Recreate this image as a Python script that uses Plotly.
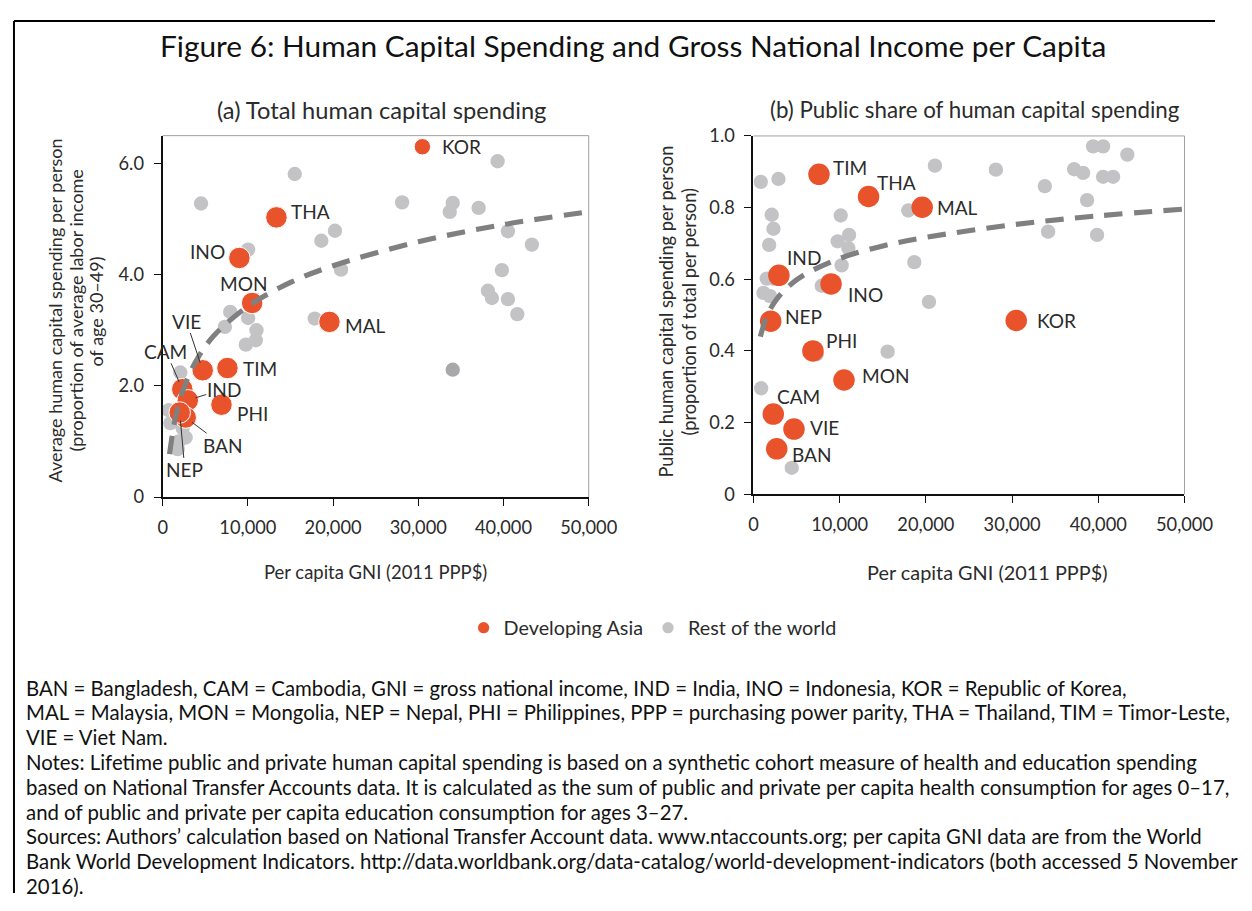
import plotly.graph_objects as go

# ---------------- data ----------------
asia_codes = ["KOR", "THA", "INO", "MON", "MAL", "TIM", "VIE", "CAM", "IND", "PHI", "BAN", "NEP"]
asia_gni = [30480, 13350, 9000, 10500, 19570, 7600, 4700, 2300, 2950, 6900, 2700, 2000]
asia_total = [6.30, 5.03, 4.30, 3.49, 3.15, 2.32, 2.28, 1.94, 1.74, 1.66, 1.43, 1.52]
asia_public = [0.485, 0.831, 0.587, 0.319, 0.801, 0.893, 0.182, 0.224, 0.611, 0.400, 0.127, 0.483]

row_a_gni = [4500, 15500, 10030, 20220, 18620, 20930, 28100, 34040, 33690, 7930, 7300, 10030,
             11010, 10930, 9760, 17840, 2070, 700, 900, 2340, 2700, 1900, 1760, 37080, 39310,
             40520, 43330, 39810, 38170, 38640, 40520, 41620]
row_a_total = [5.28, 5.81, 4.45, 4.79, 4.61, 4.09, 5.30, 5.29, 5.13, 3.33, 3.06, 3.22,
               3.00, 2.82, 2.74, 3.21, 2.24, 1.56, 1.33, 1.24, 1.07, 1.00, 0.86, 5.20, 6.04,
               4.78, 4.54, 4.08, 3.71, 3.58, 3.56, 3.29]
row_a_dark_gni = [34040]
row_a_dark_total = [2.29]

row_b_gni = [850, 2900, 21050, 2120, 2320, 1820, 10120, 11090, 9770, 11010, 10230, 17960,
             18660, 20360, 1540, 2320, 1160, 1930, 7920, 7340, 15560, 890, 4440, 28120,
             33800, 37200, 38240, 39400, 40560, 43370, 40560, 41720, 38700, 34180, 39860]
row_b_public = [0.872, 0.880, 0.917, 0.780, 0.741, 0.696, 0.778, 0.724, 0.706, 0.687, 0.639, 0.792,
                0.648, 0.537, 0.602, 0.602, 0.562, 0.553, 0.582, 0.391, 0.398, 0.296, 0.074, 0.906,
                0.860, 0.907, 0.897, 0.971, 0.971, 0.948, 0.886, 0.886, 0.821, 0.733, 0.724]

# fitted trend lines
trend_gni = [800, 1500, 2500, 4000, 6000, 10000, 15000, 20000, 30000, 40000, 50000]
trend_total = [0.77, 1.43, 1.97, 2.47, 2.90, 3.43, 3.86, 4.16, 4.59, 4.90, 5.13]
trend_public = [0.440, 0.494, 0.538, 0.579, 0.614, 0.658, 0.693, 0.717, 0.752, 0.777, 0.796]

x_tickvals = [0, 10000, 20000, 30000, 40000, 50000]
x_ticktext = ["0", "10,000", "20,000", "30,000", "40,000", "50,000"]
ya_tickvals = [0, 2, 4, 6]
ya_ticktext = ["0", "2.0", "4.0", "6.0"]
yb_tickvals = [0, 0.2, 0.4, 0.6, 0.8, 1.0]
yb_ticktext = ["0", "0.2", "0.4", "0.6", "0.8", "1.0"]

title_text = "Figure 6: Human Capital Spending and Gross National Income per Capita"
sub_a = "(a) Total human capital spending"
sub_b = "(b) Public share of human capital spending"
ytitle_a_lines = ["Average human capital spending per person", "(proportion of average labor income",
                  "of age 30\u201349)"]
ytitle_b_lines = ["Public human capital spending per person", "(proportion of total per person)"]
xtitle = "Per capita GNI (2011 PPP$)"
legend_names = ["Developing Asia", "Rest of the world"]
notes = [
    "BAN = Bangladesh, CAM = Cambodia, GNI = gross national income, IND = India, INO = Indonesia, KOR = Republic of Korea,",
    "MAL = Malaysia, MON = Mongolia, NEP = Nepal, PHI = Philippines, PPP = purchasing power parity, THA = Thailand, TIM = Timor-Leste,",
    "VIE = Viet Nam.",
    "Notes: Lifetime public and private human capital spending is based on a synthetic cohort measure of health and education spending",
    "based on National Transfer Accounts data. It is calculated as the sum of public and private per capita health consumption for ages 0\u201317,",
    "and of public and private per capita education consumption for ages 3\u201327.",
    "Sources: Authors\u2019 calculation based on National Transfer Account data. www.ntaccounts.org; per capita GNI data are from the World",
    "Bank World Development Indicators. http://data.worldbank.org/data-catalog/world-development-indicators (both accessed 5 November",
    "2016).",
]

# ---------------- styles / layout ----------------
PAGE_MARGIN = 8
W, H = 1252 - 2 * PAGE_MARGIN, 911 - 2 * PAGE_MARGIN
# measured mapping page-pixel -> picture-pixel (picture = S * page + O)
SX, OX, SY, OY = 0.974, 5.6, 0.979, 10.1
K = 1 / 0.976  # size compensation
FONT = "Lato"
RED = "#E9532C"
GRAY = "#C3C3C5"
DARKGRAY = "#A8A8AB"
TREND = "#808080"
TXT = "#2b2b2b"


def px(x):
    page = (x - OX) / SX
    return (page - PAGE_MARGIN) / W


def py(y):
    page = (y - OY) / SY
    return 1 - (page - PAGE_MARGIN) / H


def fs(v):
    return round(v * K, 2)


labels_a = {
    "KOR": ("t", 17, 0, "left"), "THA": ("t", 12, -6, "left"), "INO": ("t", -12, -6, "right"),
    "MON": ("t", -8, -19, "center"), "MAL": ("t", 13, 4, "left"), "TIM": ("t", 13, 0, "left"),
    "PHI": ("t", 13, 9, "left"),
    "VIE": ("l", -16, -48, None), "CAM": ("l", -16, -37, None), "IND": ("l", 35, -11, None),
    "BAN": ("l", 36, 27, None), "NEP": ("l", 5, 56, None),
}
labels_b = {
    "TIM": (12, -7), "THA": (6, -14), "MAL": (13, 0), "IND": (6, -17), "INO": (15, 10),
    "NEP": (12, -5), "PHI": (11, -10), "MON": (16, -4), "CAM": (2, -17), "VIE": (14, -2),
    "BAN": (13, 6), "KOR": (18, 0),
}
LABEL_FONT = dict(family=FONT, size=fs(18.6), color=TXT)
DASH = "%.1fpx,%.1fpx" % (18 * K, 11 * K)

fig = go.Figure()

fig.add_trace(go.Scatter(x=row_a_gni, y=row_a_total, mode="markers", xaxis="x", yaxis="y",
                         marker=dict(color=GRAY, size=fs(14), opacity=1), showlegend=False, hoverinfo="skip"))
fig.add_trace(go.Scatter(x=row_a_dark_gni, y=row_a_dark_total, mode="markers", xaxis="x", yaxis="y",
                         marker=dict(color=DARKGRAY, size=fs(14), opacity=1), showlegend=False, hoverinfo="skip"))
sizes_a = [fs(16) if c == "KOR" else fs(21) for c in asia_codes]
fig.add_trace(go.Scatter(x=asia_gni, y=asia_total, mode="markers", xaxis="x", yaxis="y",
                         marker=dict(color=RED, size=sizes_a, opacity=1), showlegend=False))
fig.add_trace(go.Scatter(x=trend_gni, y=trend_total, mode="lines", xaxis="x", yaxis="y",
                         line=dict(color=TREND, width=fs(5), dash=DASH, shape="spline"),
                         showlegend=False, hoverinfo="skip"))

fig.add_trace(go.Scatter(x=row_b_gni, y=row_b_public, mode="markers", xaxis="x2", yaxis="y2",
                         marker=dict(color=GRAY, size=fs(14), opacity=1), showlegend=False, hoverinfo="skip"))
fig.add_trace(go.Scatter(x=asia_gni, y=asia_public, mode="markers", xaxis="x2", yaxis="y2",
                         marker=dict(color=RED, size=fs(21), opacity=1), showlegend=False))
fig.add_trace(go.Scatter(x=trend_gni, y=trend_public, mode="lines", xaxis="x2", yaxis="y2",
                         line=dict(color=TREND, width=fs(5), dash=DASH, shape="spline"),
                         showlegend=False, hoverinfo="skip"))

fig.add_trace(go.Scatter(x=[None], y=[None], mode="markers", name=legend_names[0],
                         marker=dict(color=RED, size=fs(11))))
fig.add_trace(go.Scatter(x=[None], y=[None], mode="markers", name=legend_names[1],
                         marker=dict(color=GRAY, size=fs(11))))

ann = []
for i, c in enumerate(asia_codes):
    mode, dx, dy, anc = labels_a[c]
    if mode == "t":
        ann.append(dict(x=asia_gni[i], y=asia_total[i], xref="x", yref="y", text=c, showarrow=False,
                        xanchor=anc, yanchor="middle", xshift=dx * K, yshift=-dy * K, font=LABEL_FONT))
    else:
        ann.append(dict(x=asia_gni[i], y=asia_total[i], xref="x", yref="y", text=c, showarrow=True,
                        arrowhead=0, arrowwidth=1, arrowcolor="#333333", ax=dx * K, ay=dy * K,
                        standoff=8, borderpad=0, font=LABEL_FONT))
for i, c in enumerate(asia_codes):
    dx, dy = labels_b[c]
    ann.append(dict(x=asia_gni[i], y=asia_public[i], xref="x2", yref="y2", text=c, showarrow=False,
                    xanchor="left", yanchor="middle", xshift=dx * K, yshift=-dy * K, font=LABEL_FONT))


def text_at(x, y, t, size, color=TXT, anchor="center", angle=0):
    ann.append(dict(x=px(x), y=py(y), xref="paper", yref="paper", text=t, showarrow=False,
                    textangle=angle, font=dict(family=FONT, size=fs(size), color=color),
                    xanchor=anchor, yanchor="middle"))


text_at(634, 44, title_text, 29.1, color="#111111")
text_at(382, 108, sub_a, 23.1)
text_at(977, 108, sub_b, 21.8)
for k, line in enumerate(ytitle_a_lines):
    text_at(55 + 21 * k, 310, line, 17.6, angle=-90)
for k, line in enumerate(ytitle_b_lines):
    text_at(667 + 23 * k, 311, line, 17.8, angle=-90)
text_at(376, 572, xtitle, 18)
text_at(989, 572, xtitle, 19.4)
for k, line in enumerate(notes):
    text_at(24, 688 + 24.9 * k, line, 19.9, color="#111111", anchor="left")

axis_common = dict(showgrid=False, zeroline=False, showline=True, linecolor="#111111", linewidth=2,
                   ticks="outside", ticklen=7, tickwidth=1, tickcolor="#111111",
                   tickfont=dict(family=FONT, size=fs(17.8), color=TXT), ticklabelstandoff=6)

shapes = []
for xr, yr in (("x domain", "y domain"), ("x2 domain", "y2 domain")):
    shapes.append(dict(type="line", xref=xr, yref=yr, x0=0, x1=1, y0=1, y1=1,
                       line=dict(color="#A0A0A0", width=1)))
    shapes.append(dict(type="line", xref=xr, yref=yr, x0=1, x1=1, y0=0, y1=1,
                       line=dict(color="#A0A0A0", width=1)))
# outer frame (top and left), as close to the edge as the page allows
f0x, f0y = 1.0 / W, 1 - 1.0 / H
shapes.append(dict(type="line", xref="paper", yref="paper", x0=f0x, x1=1, y0=f0y, y1=f0y,
                   line=dict(color="#000000", width=2)))
shapes.append(dict(type="line", xref="paper", yref="paper", x0=f0x, x1=f0x, y0=0, y1=f0y,
                   line=dict(color="#000000", width=2)))

fig.update_layout(
    width=W, height=H, margin=dict(l=0, r=0, t=0, b=0),
    paper_bgcolor="white", plot_bgcolor="white",
    font=dict(family=FONT, color=TXT),
    xaxis=dict(domain=[px(163.3), px(590)], range=[0, 50000], tickvals=x_tickvals, ticktext=x_ticktext,
               anchor="y", **axis_common),
    yaxis=dict(domain=[py(496.7), py(134)], range=[0, 6.5], tickvals=ya_tickvals, ticktext=ya_ticktext,
               anchor="x", **axis_common),
    xaxis2=dict(domain=[px(755), px(1186.7)], range=[0, 50000], tickvals=x_tickvals, ticktext=x_ticktext,
                anchor="y2", **axis_common),
    yaxis2=dict(domain=[py(494), py(134.3)], range=[0, 1.0], tickvals=yb_tickvals, ticktext=yb_ticktext,
                anchor="x2", **axis_common),
    legend=dict(orientation="h", x=px(654), y=py(628), xanchor="center", yanchor="middle",
                font=dict(family=FONT, size=fs(19.3), color=TXT), itemwidth=30, bgcolor="rgba(0,0,0,0)"),
    annotations=ann, shapes=shapes, showlegend=True,
)

fig.write_html("out.html")
